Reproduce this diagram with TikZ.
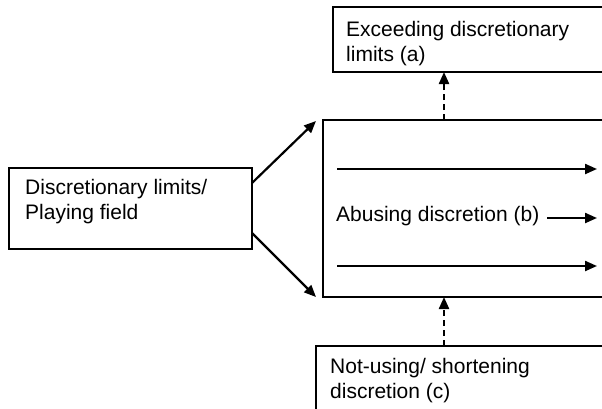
\documentclass[tikz,border=0pt]{standalone}
\usepackage{fontspec}
\setmainfont{Liberation Sans}
\usetikzlibrary{arrows.meta,calc}
\begin{document}
\begin{tikzpicture}[x=1pt,y=-1pt,
  box/.style={draw, line width=1.5pt, rectangle, inner sep=0pt, outer sep=0pt},
  lbl/.style={font=\fontsize{21}{25}\selectfont, align=left, inner sep=0pt, anchor=base west},
  arr/.style={line width=2.2pt, -{Triangle[length=12pt,width=10pt]}},
  dasharr/.style={arr, dash pattern=on 6pt off 4pt}]
\useasboundingbox (0,0) rectangle (602,408);
\clip (0,0) rectangle (602,408);
% boxes
\node[box, anchor=north west, minimum width=300pt, minimum height=65pt] (T) at (333,7) {};
\node[box, anchor=north west, minimum width=243pt, minimum height=81pt] (L) at (9,168) {};
\node[box, anchor=north west, minimum width=300pt, minimum height=177pt] (M) at (323,120) {};
\node[box, anchor=north west, minimum width=300pt, minimum height=80pt] (B) at (316,346) {};
% labels (base = baseline of last line)
\node[lbl] (tT) at (346,61) {Exceeding discretionary\\limits (a)};
\node[lbl] (tL) at (25,219) {Discretionary limits/\\Playing field};
\node[lbl] (tM) at (336,221) {Abusing discretion (b)};
\node[lbl] (tB) at (330,398) {Not-using/ shortening\\discretion (c)};
% coordinates
\coordinate (xa) at (444,0);
\coordinate (h1s) at (337,169);
\coordinate (h1e) at (597,169);
\coordinate (h2s) at (337,266);
\coordinate (h2e) at (597,266);
\coordinate (h3s) at (547,218);
\coordinate (h3e) at (597,218);
% connectors
\draw[arr] ($(L.north east)+(0,15)$) -- ($(M.north west)+(-7,1)$);
\draw[arr] ($(L.south east)+(0,-16)$) -- ($(M.south west)+(-7,0)$);
\draw[dasharr] (M.north -| xa) -- (T.south -| xa);
\draw[dasharr] (B.north -| xa) -- (M.south -| xa);
\draw[arr] (h1s) -- (h1e);
\draw[arr] (h2s) -- (h2e);
\draw[arr] (h3s) -- (h3e);
\end{tikzpicture}
\end{document}
